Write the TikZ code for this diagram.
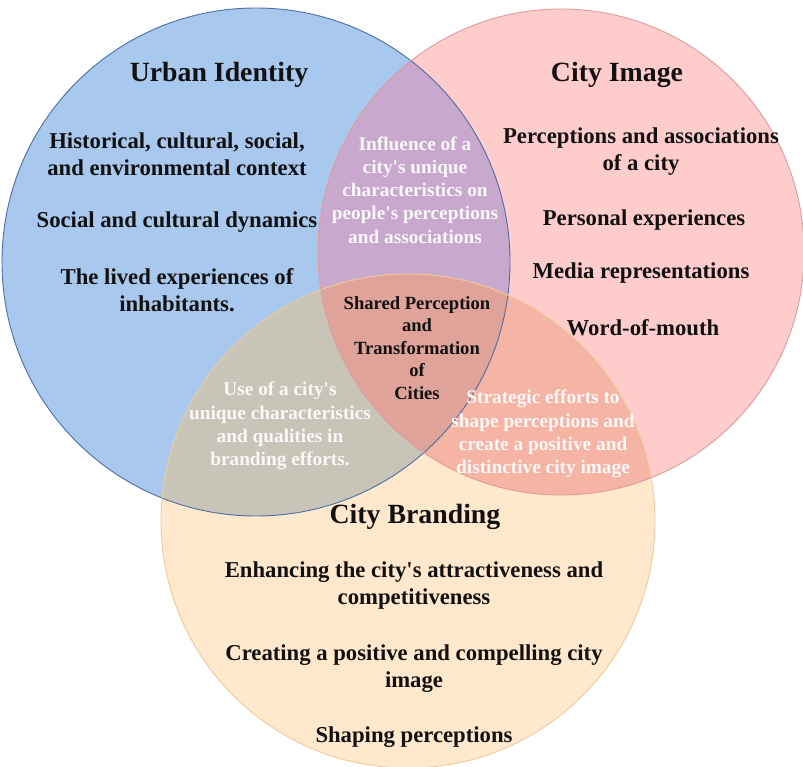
\documentclass[tikz,border=0pt]{standalone}
\usepackage{fontspec}
\setmainfont{Liberation Serif}
\definecolor{bluefill}{HTML}{A9C8EE}
\definecolor{redfill}{HTML}{FFCCCC}
\definecolor{orangefill}{HTML}{FFE8CC}
\definecolor{bluered}{HTML}{C8A8CC}
\definecolor{blueorange}{HTML}{C8C4B8}
\definecolor{redorange}{HTML}{F5B4A4}
\definecolor{allthree}{HTML}{E0A39A}
\definecolor{blueline}{HTML}{4A6FA5}
\definecolor{redline}{HTML}{E09A9A}
\definecolor{orangeline}{HTML}{EFCB98}
\definecolor{ink}{HTML}{111111}
\newcommand{\q}{\textquotesingle}
\begin{document}
\begin{tikzpicture}[x=1pt,y=-1pt,
  every node/.style={inner sep=0pt},
  head/.style={font=\fontsize{27.8}{32}\selectfont\bfseries, text=ink},
  body/.style={font=\fontsize{22.7}{27}\selectfont\bfseries, align=center, text=ink},
  lens/.style={font=\fontsize{19.3}{23.3}\selectfont\bfseries, align=center, text=white!95!gray},
  core/.style={font=\fontsize{18.6}{22.5}\selectfont\bfseries, align=center, text=ink}]
\useasboundingbox (0,0) rectangle (803,767);
% circle centres
\coordinate (ui) at (256,262);
\coordinate (ci) at (561,252);
\coordinate (cb) at (408,521);
\def\rui{254pt}
\def\rci{243pt}
\def\rcb{247pt}
% plain fills
\fill[bluefill] (ui) circle[radius=\rui];
\fill[redfill] (ci) circle[radius=\rci];
\fill[orangefill] (cb) circle[radius=\rcb];
% pairwise overlaps
\begin{scope}
  \clip (ui) circle[radius=\rui];
  \fill[bluered] (ci) circle[radius=\rci];
  \fill[blueorange] (cb) circle[radius=\rcb];
\end{scope}
\begin{scope}
  \clip (ci) circle[radius=\rci];
  \fill[redorange] (cb) circle[radius=\rcb];
\end{scope}
% common part of all three
\begin{scope}
  \clip (ui) circle[radius=\rui];
  \clip (ci) circle[radius=\rci];
  \fill[allthree] (cb) circle[radius=\rcb];
\end{scope}
% outlines
\draw[blueline, line width=0.9pt] (ui) circle[radius=\rui];
\draw[redline, line width=0.9pt] (ci) circle[radius=\rci];
\draw[orangeline, line width=0.9pt] (cb) circle[radius=\rcb];

% Urban Identity
\node[head] (uiTitle) at (219,75) {Urban Identity};
\node[body] (ui1) at (177,154) {Historical, cultural, social,\\and environmental context};
\node[body] (ui2) at (177,222) {Social and cultural dynamics};
\node[body] (ui3) at (177,290) {The lived experiences of\\inhabitants.};

% City Image
\node[head] (ciTitle) at (617,75) {City Image};
\node[body] (ci1) at (641,152) {Perceptions and associations\\of a city};
\node[body] (ci2) at (644,220) {Personal experiences};
\node[body] (ci3) at (641,273) {Media representations};
\node[body] (ci4) at (643,328) {Word-of-mouth};

% City Branding
\node[head] (cbTitle) at (415,517) {City Branding};
\node[body] (cb1) at (414,586) {Enhancing the city\q s attractiveness and\\competitiveness};
\node[body] (cb2) at (414,669) {Creating a positive and compelling city\\image};
\node[body] (cb3) at (414,737) {Shaping perceptions};

% overlaps
\node[lens] (uici) at (415,190) {Influence of a\\city\q s unique\\characteristics on\\people\q s perceptions\\and associations};
\node[lens] (uicb) at (280,426) {Use of a city\q s\\unique characteristics\\and qualities in\\branding efforts.};
\node[lens] (cicb) at (543,434) {Strategic efforts to\\shape perceptions and\\create a positive and\\distinctive city image};
\node[core] (shared) at (417,348) {Shared Perception\\and\\Transformation\\of\\Cities};
\end{tikzpicture}
\end{document}
